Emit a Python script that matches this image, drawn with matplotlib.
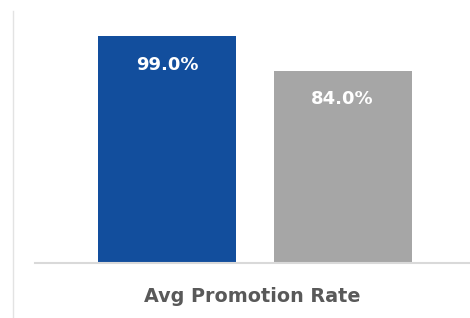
import matplotlib
matplotlib.use("Agg")
import matplotlib.pyplot as plt
from matplotlib.lines import Line2D

# data
categories = ["A", "B"]
values = [99.0, 84.0]
bar_colors = ["#124e9d", "#a6a6a6"]
xlabel = "Avg Promotion Rate"

W, H = 470, 318
fig = plt.figure(figsize=(W / 100, H / 100), dpi=100)
ax = fig.add_axes([35 / W, (H - 263) / H, 435 / W, (263 - 11) / H])

x = range(len(categories))
bars = ax.bar(x, values, width=0.786, color=bar_colors)

for b, v in zip(bars, values):
    ax.text(b.get_x() + b.get_width() / 2, v - 12.6, f"{v:.1f}%",
            ha="center", va="center", color="white",
            fontsize=13, fontweight="bold", family="DejaVu Sans")

ax.set_xlim(-0.752, 1.726)
ax.set_ylim(0, 110)
ax.set_xticks([])
ax.set_yticks([])
for s in ["top", "right", "left"]:
    ax.spines[s].set_visible(False)
ax.spines["bottom"].set_color("#d9d9d9")
ax.spines["bottom"].set_linewidth(1.5)
ax.set_xlabel(xlabel, fontsize=13.8, fontweight="bold", color="#595959",
              family="DejaVu Sans", labelpad=17)

# thin frame line on the left edge
fig.add_artist(Line2D([12.5 / W, 12.5 / W], [0, (H - 11) / H],
                      color="#e3e3e3", lw=1.0, transform=fig.transFigure))

fig.savefig("out.png", dpi=100)
